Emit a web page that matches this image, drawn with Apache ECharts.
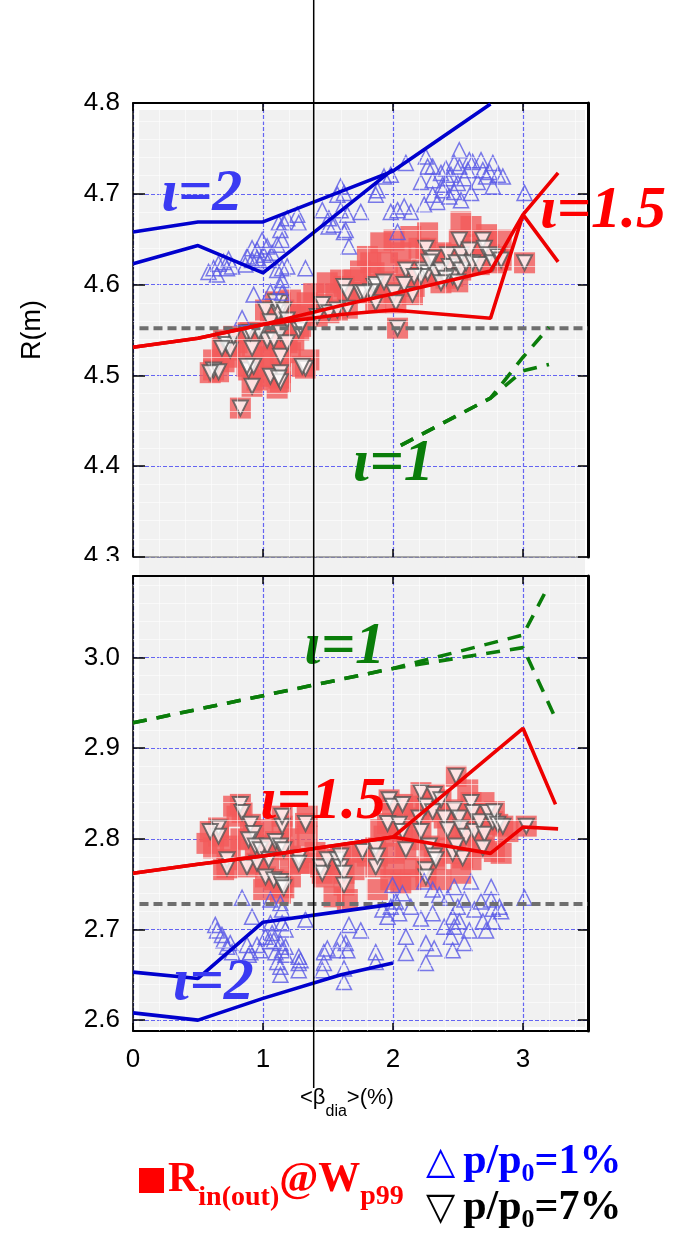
<!DOCTYPE html>
<html>
<head>
<meta charset="UTF-8">
<title>R(m) vs beta_dia</title>
<script src="https://cdn.jsdelivr.net/npm/echarts@6/dist/echarts.min.js"></script>
<style>
  html, body { margin: 0; padding: 0; background: #fff; }
  #chart { width: 675px; height: 1234px; }
</style>
</head>
<body>
<div id="chart"></div>
<script>
// ---- data ----
const xTicks = [0, 1, 2, 3];
const yTicksTop = [4.3, 4.4, 4.5, 4.6, 4.7, 4.8];
const yTicksBottom = [2.6, 2.7, 2.8, 2.9, 3.0];

// upper panel: p/p0 = 1% (blue up triangles)
const blueTop = [
  [0.620,4.618],[0.658,4.623],[0.697,4.625],[0.735,4.628],[0.646,4.611],[0.723,4.618],[0.581,4.614],[0.762,4.620],
  [0.877,4.631],[0.916,4.640],[0.954,4.638],[0.993,4.649],[1.032,4.642],[1.070,4.635],[1.109,4.644],[1.147,4.649],
  [0.954,4.629],[1.005,4.633],[1.044,4.627],[1.134,4.660],[1.160,4.668],[1.186,4.673],[1.121,4.668],[0.916,4.627],
  [0.864,4.622],[0.980,4.624],[1.147,4.618],[1.186,4.620],[1.109,4.616],[1.263,4.677],[1.275,4.668],[1.327,4.618],
  [0.928,4.589],[1.057,4.592],[1.134,4.598],[1.147,4.591],[0.839,4.563],[1.456,4.682],[1.507,4.673],[1.546,4.666],
  [1.597,4.708],[1.572,4.699],[1.623,4.701],[1.597,4.682],[1.649,4.677],[1.636,4.660],[1.661,4.642],[1.752,4.680],
  [1.867,4.699],[1.880,4.704],[1.931,4.719],[1.983,4.721],[2.099,4.734],[1.983,4.680],[2.035,4.682],[2.086,4.686],
  [2.137,4.680],[2.035,4.658],[2.215,4.713],[2.253,4.741],[2.266,4.730],[2.240,4.688],[2.305,4.715],[2.305,4.699],
  [2.343,4.691],[2.382,4.710],[2.407,4.728],[2.446,4.721],[2.471,4.702],[2.498,4.712],[2.510,4.730],[2.510,4.748],
  [2.523,4.693],[2.549,4.717],[2.575,4.726],[2.600,4.701],[2.613,4.735],[2.652,4.713],[2.677,4.737],[2.691,4.726],
  [2.716,4.719],[2.768,4.734],[2.768,4.708],[2.806,4.721],[2.845,4.719],[2.421,4.717],[2.369,4.723],[2.305,4.730],
  [3.012,4.701],[2.471,4.734],[2.587,4.737],[2.742,4.724],[2.382,4.704],[2.433,4.697],[1.623,4.658],[1.147,4.605],
  [1.505,4.664]
];
// upper panel: p/p0 = 7% (black down triangles)
const blackTop = [
  [0.620,4.506],[0.658,4.504],[0.594,4.503],[0.697,4.539],[0.723,4.534],[0.748,4.528],[0.684,4.530],[0.826,4.464],
  [0.877,4.547],[0.916,4.530],[0.916,4.488],[0.890,4.506],[0.928,4.510],[0.980,4.547],[1.019,4.572],[1.057,4.559],
  [1.032,4.539],[1.083,4.539],[1.121,4.569],[1.134,4.580],[1.096,4.581],[1.134,4.547],[1.134,4.521],[1.186,4.536],
  [1.057,4.499],[1.134,4.503],[1.134,4.493],[0.967,4.548],[1.275,4.550],[1.327,4.508],[1.456,4.578],[1.507,4.569],
  [1.623,4.598],[1.649,4.591],[1.649,4.574],[1.752,4.591],[1.854,4.598],[1.867,4.580],[1.572,4.572],[1.867,4.600],
  [1.931,4.603],[2.008,4.591],[2.022,4.580],[2.035,4.552],[2.099,4.616],[2.150,4.589],[2.228,4.616],[2.253,4.640],
  [2.266,4.613],[2.305,4.629],[2.330,4.613],[2.369,4.616],[2.421,4.633],[2.433,4.620],[2.459,4.609],[2.485,4.624],
  [2.510,4.649],[2.523,4.633],[2.523,4.616],[2.562,4.624],[2.587,4.638],[2.613,4.624],[2.664,4.622],[2.691,4.649],
  [2.703,4.640],[2.742,4.633],[2.768,4.624],[2.806,4.631],[2.832,4.627],[3.012,4.624],[2.279,4.625],[2.407,4.607],
  [2.215,4.609],[2.369,4.602],[2.498,4.603],[2.163,4.609],[2.086,4.600],[1.829,4.592],[1.777,4.591],[0.774,4.543],
  [0.903,4.547],[1.160,4.572],[1.186,4.561],[1.289,4.554],[1.417,4.565],[1.302,4.510],[0.877,4.510],[1.121,4.497]
];
// upper panel: R_in@Wp99 squares that have no triangle on top
const redTopExtra = [
  [2.008,4.649],[2.137,4.653],[2.266,4.657],[2.523,4.669],[2.600,4.664],[1.906,4.646],[1.803,4.631],[2.832,4.649],
  [1.958,4.624],[2.163,4.598],[1.211,4.583],[1.340,4.580],[1.314,4.569],[1.494,4.602],[1.597,4.605],[1.829,4.624],
  [1.700,4.605],[1.854,4.613],[0.954,4.495],[1.211,4.525],[1.237,4.539],[0.620,4.517],[0.800,4.536],[1.109,4.486],
  [1.353,4.517],[2.369,4.635],[2.638,4.644],[2.720,4.655],[0.700,4.515],[0.780,4.520],[1.000,4.520],[1.060,4.520],
  [1.250,4.565],[1.390,4.590],[1.560,4.590],[1.750,4.615],[2.060,4.635],[2.200,4.640]
];

// lower panel
const blueBottom = [
  [0.839,2.735],[0.633,2.705],[0.646,2.699],[0.684,2.694],[0.697,2.688],[0.748,2.685],[0.916,2.714],[0.877,2.683],
  [0.903,2.675],[0.954,2.683],[0.980,2.677],[1.019,2.692],[1.057,2.687],[1.070,2.696],[1.096,2.675],[1.134,2.685],
  [1.147,2.677],[1.173,2.672],[1.109,2.664],[1.134,2.659],[1.134,2.650],[1.057,2.733],[1.134,2.729],[1.147,2.722],
  [1.147,2.707],[1.275,2.670],[1.275,2.663],[1.275,2.655],[1.327,2.711],[1.468,2.663],[1.456,2.655],[1.495,2.679],
  [1.572,2.677],[1.597,2.688],[1.636,2.685],[1.649,2.677],[1.623,2.657],[1.623,2.642],[1.661,2.705],[1.752,2.699],
  [1.867,2.675],[1.867,2.664],[1.958,2.714],[1.996,2.749],[2.047,2.718],[2.073,2.740],[2.022,2.731],[2.137,2.725],
  [2.099,2.692],[2.099,2.674],[2.215,2.712],[2.253,2.685],[2.317,2.679],[2.253,2.663],[2.240,2.753],[2.305,2.744],
  [2.305,2.718],[2.356,2.738],[2.394,2.703],[2.421,2.735],[2.446,2.692],[2.459,2.677],[2.471,2.747],[2.498,2.725],
  [2.510,2.709],[2.549,2.685],[2.549,2.733],[2.587,2.699],[2.600,2.753],[2.626,2.722],[2.677,2.731],[2.691,2.709],
  [2.716,2.699],[2.755,2.747],[2.755,2.733],[2.768,2.723],[2.768,2.709],[2.819,2.725],[2.832,2.720],[3.012,2.735],
  [2.459,2.714],[2.471,2.703],[1.468,2.675],[1.919,2.722],[1.983,2.725],[0.723,2.681],[0.762,2.675],[0.890,2.672],
  [1.083,2.688],[1.057,2.707],[1.173,2.700],[1.173,2.681],[1.289,2.666]
];
const blackBottom = [
  [0.826,2.838],[0.839,2.829],[0.658,2.812],[0.658,2.803],[0.594,2.808],[0.903,2.816],[0.928,2.806],[0.890,2.799],
  [0.941,2.792],[0.980,2.788],[1.032,2.792],[1.096,2.797],[1.134,2.792],[1.160,2.788],[1.147,2.814],[1.147,2.825],
  [1.327,2.817],[0.723,2.777],[0.723,2.768],[0.877,2.769],[0.954,2.773],[1.019,2.758],[1.083,2.755],[1.134,2.753],
  [1.147,2.749],[1.160,2.746],[1.044,2.777],[1.275,2.779],[1.275,2.773],[1.443,2.769],[1.456,2.762],[1.495,2.777],
  [1.572,2.777],[1.597,2.769],[1.623,2.762],[1.623,2.749],[1.597,2.781],[1.765,2.786],[1.867,2.790],[1.867,2.769],
  [1.880,2.781],[1.970,2.843],[1.958,2.817],[1.996,2.836],[2.073,2.838],[2.047,2.816],[2.073,2.808],[2.099,2.788],
  [2.215,2.851],[2.253,2.836],[2.201,2.823],[2.215,2.808],[2.279,2.792],[2.317,2.781],[2.317,2.849],[2.369,2.843],
  [2.305,2.830],[2.394,2.823],[2.421,2.810],[2.471,2.832],[2.485,2.869],[2.510,2.823],[2.523,2.812],[2.562,2.803],
  [2.459,2.784],[2.536,2.779],[2.600,2.840],[2.613,2.829],[2.626,2.808],[2.664,2.819],[2.703,2.805],[2.729,2.829],
  [2.768,2.819],[2.780,2.830],[2.806,2.816],[2.845,2.814],[2.691,2.790],[2.253,2.766],[2.253,2.758],[3.025,2.814],
  [2.330,2.777],[2.485,2.792]
];
const redBottomExtra = [
  [0.697,2.766],[1.005,2.744],[1.134,2.740],[1.211,2.758],[1.211,2.781],[1.340,2.803],[1.340,2.773],[1.468,2.758],
  [1.649,2.733],[1.546,2.736],[1.700,2.766],[1.803,2.781],[1.880,2.744],[1.931,2.803],[1.983,2.755],[2.060,2.751],
  [2.163,2.799],[2.163,2.769],[2.137,2.755],[2.369,2.755],[2.523,2.762],[2.600,2.777],[2.652,2.795],[2.780,2.786],
  [2.832,2.784],[2.884,2.808],[2.575,2.854],[2.163,2.836],[1.906,2.810],[1.340,2.825],[0.774,2.836],[0.800,2.825],
  [0.569,2.795],[0.748,2.792],[2.008,2.784],[2.008,2.769],[0.620,2.790],[0.830,2.800],[1.000,2.810],[1.200,2.800],
  [1.400,2.785],[1.700,2.785],[2.400,2.790],[2.600,2.810],[2.700,2.840]
];
const redTop = blackTop.concat(redTopExtra);
const redBottom = blackBottom.concat(redBottomExtra);

// model curves
const blueTopA = [[0,4.658],[0.5,4.669],[1.0,4.669],[2.0,4.725],[2.75,4.799]];
const blueTopB = [[0,4.623],[0.5,4.643],[1.0,4.613],[2.0,4.727]];
const redTopA = [[0,4.531],[0.5,4.541],[1.0,4.556],[1.6,4.577],[2.0,4.590],[2.75,4.615],[3.0,4.677],[3.27,4.723]];
const redTopB = [[0,4.531],[0.5,4.541],[1.0,4.556],[1.6,4.567],[2.0,4.572],[2.75,4.563],[3.0,4.677],[3.27,4.625]];
const greenTopA = [[2.06,4.423],[2.75,4.475],[3.0,4.52],[3.2,4.553]];
const greenTopB = [[2.06,4.423],[2.75,4.475],[3.0,4.505],[3.2,4.512]];
const grayTop = 4.552;

const blueBottomA = [[0,2.653],[0.5,2.646],[1.0,2.708],[1.6,2.720],[2.0,2.728]];
const blueBottomB = [[0,2.608],[0.5,2.600],[1.0,2.624],[1.6,2.650],[2.0,2.663]];
const redBottomA = [[0,2.762],[0.5,2.772],[1.0,2.781],[2.0,2.802],[3.0,2.922],[3.25,2.838]];
const redBottomB = [[0,2.762],[0.5,2.772],[1.0,2.781],[2.0,2.802],[2.75,2.784],[3.0,2.813],[3.27,2.811]];
const greenBottomA = [[0,2.928],[0.5,2.943],[1.0,2.958],[2.0,2.988],[3.0,3.025],[3.2,3.080]];
const greenBottomB = [[0,2.928],[0.5,2.943],[1.0,2.958],[2.0,2.988],[3.0,3.011],[3.25,2.933]];
const grayBottom = 2.728;

const betaCursor = 1.39;

// ---- style ----
const BLUE = '#0000cd', RED = '#ee0000', GREEN = '#0a7d0a';
const serif = '"Liberation Serif", "Times New Roman", serif';
const sans = '"Liberation Sans", Arial, sans-serif';

const blueGrid = { show: true, lineStyle: { color: '#6464f2', width: 1.2, type: [4, 2] } };
const whiteMinor = { show: true, lineStyle: { color: 'rgba(255,255,255,0.55)', width: 1 } };

function xAx(gi, pos, extra) {
  return Object.assign({
    gridIndex: gi, type: 'value', min: 0, max: 3.5, interval: 1, position: pos,
    axisLine: { onZero: false, lineStyle: { color: '#000', width: 2 } },
    axisTick: { inside: true, length: 8, customValues: xTicks, lineStyle: { color: '#000', width: 1.5 } },
    axisLabel: { show: false },
    splitLine: { show: false }
  }, extra);
}
function yAx(gi, pos, range, extra) {
  return Object.assign({
    gridIndex: gi, type: 'value', min: range[0], max: range[1], position: pos,
    axisLine: { onZero: false, lineStyle: { color: '#000', width: 1.5 } },
    axisTick: { inside: true, length: 12, lineStyle: { color: '#000', width: 1.5 } },
    axisLabel: { show: false },
    splitLine: { show: false }
  }, extra);
}
const yLabel = { show: true, fontSize: 26, color: '#000', fontFamily: sans, margin: 13, formatter: v => v.toFixed(1) };

function sc(data, gi, kind) {
  const s = { type: 'scatter', data, xAxisIndex: gi, yAxisIndex: gi, silent: true, z: 2 };
  if (kind === 'red') {
    s.symbol = 'rect'; s.symbolSize = 21;
    s.itemStyle = { color: '#f35a5a' };
  } else if (kind === 'black') {
    s.symbol = 'triangle'; s.symbolRotate = 180; s.symbolSize = 15;
    s.itemStyle = { color: '#ffffff', borderColor: '#555555', borderWidth: 2 };
  } else {
    s.symbol = 'triangle'; s.symbolSize = 15;
    s.itemStyle = { color: 'rgba(255,255,255,0)', borderColor: '#5a5ae6', borderWidth: 1.5 };
  }
  return s;
}
function ln(data, gi, color, dash, width) {
  return {
    type: 'line', data, xAxisIndex: gi, yAxisIndex: gi, symbol: 'none', silent: true, z: 4,
    lineStyle: { color, width: width || 3.6, type: dash || 'solid' }
  };
}

const option = {
  animation: false,
  backgroundColor: '#fff',
  grid: [
    { left: 133, top: 103, width: 455, height: 454, outerBoundsMode: 'none' },
    { left: 133, top: 576, width: 455, height: 455, outerBoundsMode: 'none' }
  ],
  xAxis: [
    xAx(0, 'bottom', { axisLine: { onZero: false, lineStyle: { color: '#8c8c8c', width: 1.5 } }, splitLine: blueGrid }),
    xAx(1, 'bottom', {
      splitLine: blueGrid,
      axisLabel: { show: true, customValues: xTicks, fontSize: 26, color: '#000', fontFamily: sans, margin: 16 }
    }),
    xAx(0, 'top', { z: 3, minorSplitLine: whiteMinor }),
    xAx(1, 'top', { z: 3, minorSplitLine: whiteMinor })
  ],
  yAxis: [
    yAx(0, 'left', [4.3, 4.8], { interval: 0.1, axisLabel: yLabel, splitLine: blueGrid }),
    yAx(1, 'left', [2.588, 3.09], {
      axisTick: { inside: true, length: 12, customValues: yTicksBottom, lineStyle: { color: '#000', width: 1.5 } },
      axisLabel: Object.assign({ customValues: yTicksBottom }, yLabel), splitLine: blueGrid
    }),
    yAx(0, 'right', [4.3, 4.8], {
      interval: 0.1, z: 3, minorSplitLine: whiteMinor,
      axisLine: { onZero: false, lineStyle: { color: '#000', width: 3 } },
      axisTick: { inside: true, length: 10, lineStyle: { color: '#000', width: 1.5 } }
    }),
    yAx(1, 'right', [2.588, 3.09], {
      z: 3, minorSplitLine: whiteMinor,
      axisLine: { onZero: false, lineStyle: { color: '#000', width: 3 } },
      axisTick: { inside: true, length: 10, customValues: yTicksBottom, lineStyle: { color: '#000', width: 1.5 } }
    })
  ],
  series: [
    sc(redTop, 0, 'red'), sc(blackTop, 0, 'black'), sc(blueTop, 0, 'blue'),
    sc(redBottom, 1, 'red'), sc(blackBottom, 1, 'black'), sc(blueBottom, 1, 'blue'),
    ln([[0.05, grayTop], [3.5, grayTop]], 0, '#6e6e6e', [9, 5], 4),
    ln([[0.05, grayBottom], [3.5, grayBottom]], 1, '#6e6e6e', [9, 5], 4),
    ln(blueTopA, 0, BLUE), ln(blueTopB, 0, BLUE),
    ln(redTopA, 0, RED), ln(redTopB, 0, RED),
    ln(greenTopA, 0, GREEN, [14, 10]), ln(greenTopB, 0, GREEN, [14, 10]),
    ln(blueBottomA, 1, BLUE), ln(blueBottomB, 1, BLUE),
    ln(redBottomA, 1, RED), ln(redBottomB, 1, RED),
    ln(greenBottomA, 1, GREEN, [14, 10]), ln(greenBottomB, 1, GREEN, [14, 10])
  ]
};

const chart = echarts.init(document.getElementById('chart'), null, { renderer: 'canvas' });
chart.setOption(option);

// ---- annotations ----
const isoLabels = [
  { g: 0, text: 'ι=2', x: 0.529, y: 4.699, color: '#3a3af2' },
  { g: 0, text: 'ι=1.5', x: 3.615, y: 4.681, color: '#ff0000' },
  { g: 0, text: 'ι=1', x: 2.002, y: 4.402, color: GREEN },
  { g: 1, text: 'ι=1', x: 1.628, y: 3.011, color: GREEN },
  { g: 1, text: 'ι=1.5', x: 1.462, y: 2.8405, color: '#ff0000' },
  { g: 1, text: 'ι=2', x: 0.617, y: 2.640, color: '#3a3af2' }
];

const mctx = document.createElement('canvas').getContext('2d');
function txt(x, y, text, font, fill, align, extra) {
  return Object.assign({
    type: 'text', x, y, z: 30, silent: true,
    style: { text, font, fill, textAlign: align || 'left', align: align || 'left', textVerticalAlign: 'middle', verticalAlign: 'middle' }
  }, extra);
}
// runs of text pieces on one baseline, subscripts dropped
function run(x0, base, pieces, out) {
  let x = x0;
  pieces.forEach(p => {
    const font = (p.w || 'bold') + ' ' + p.s + 'px ' + (p.f || serif);
    mctx.font = font;
    out.push(txt(x, base + (p.dy || 0) - 0.34 * p.s, p.t, font, p.c));
    x += mctx.measureText(p.t).width + (p.gap || 0);
  });
}

const g = [];
// plot backdrop
g.push({ type: 'rect', z: -5, silent: true, shape: { x: 139, y: 110, width: 446, height: 917 }, style: { fill: '#f1f1f1' } });
// hide lower half of the clipped "4.3"
g.push({ type: 'rect', z: 40, silent: true, shape: { x: 60, y: 561, width: 71, height: 15 }, style: { fill: '#fff' } });

isoLabels.forEach(l => {
  const p = chart.convertToPixel({ gridIndex: l.g }, [l.x, l.y]);
  g.push(txt(p[0], p[1], l.text, 'italic bold 60px ' + serif, l.color, 'center'));
});

// cursor line at the chosen beta
const cx = chart.convertToPixel({ gridIndex: 0 }, [betaCursor, 4.8])[0];
g.push({ type: 'line', z: 50, silent: true, shape: { x1: cx, y1: 0, x2: cx, y2: 1088 }, style: { stroke: '#000', lineWidth: 1.5 } });

// axis titles
g.push(txt(33, 330, 'R(m)', '27px ' + sans, '#000', 'center', { rotation: Math.PI / 2 }));
run(300, 1105, [
  { t: '<β', s: 22, w: 'normal', f: sans, c: '#000' },
  { t: 'dia', s: 16, w: 'normal', f: sans, c: '#000', dy: 12 },
  { t: '>(%)', s: 22, w: 'normal', f: sans, c: '#000' }
], g);

// legend
g.push({ type: 'rect', z: 30, silent: true, shape: { x: 139, y: 1168, width: 25, height: 25 }, style: { fill: '#ff0000' } });
run(168, 1194, [
  { t: 'R', s: 42, c: '#ff0000' },
  { t: 'in(out)', s: 28, c: '#ff0000', dy: 13 },
  { t: '@W', s: 42, c: '#ff0000' },
  { t: 'p99', s: 28, c: '#ff0000', dy: 12 }
], g);
run(426, 1176, [
  { t: '△', s: 38, f: '"DejaVu Sans"', c: '#0000ff', gap: 8 },
  { t: 'p/p', s: 42, c: '#0000ff' },
  { t: '0', s: 26, c: '#0000ff', dy: 7 },
  { t: '=1%', s: 42, c: '#0000ff' }
], g);
run(426, 1222, [
  { t: '▽', s: 38, f: '"DejaVu Sans"', c: '#000', gap: 8 },
  { t: 'p/p', s: 42, c: '#000' },
  { t: '0', s: 26, c: '#000', dy: 7 },
  { t: '=7%', s: 42, c: '#000' }
], g);

chart.setOption({ graphic: g });
</script>
</body>
</html>
